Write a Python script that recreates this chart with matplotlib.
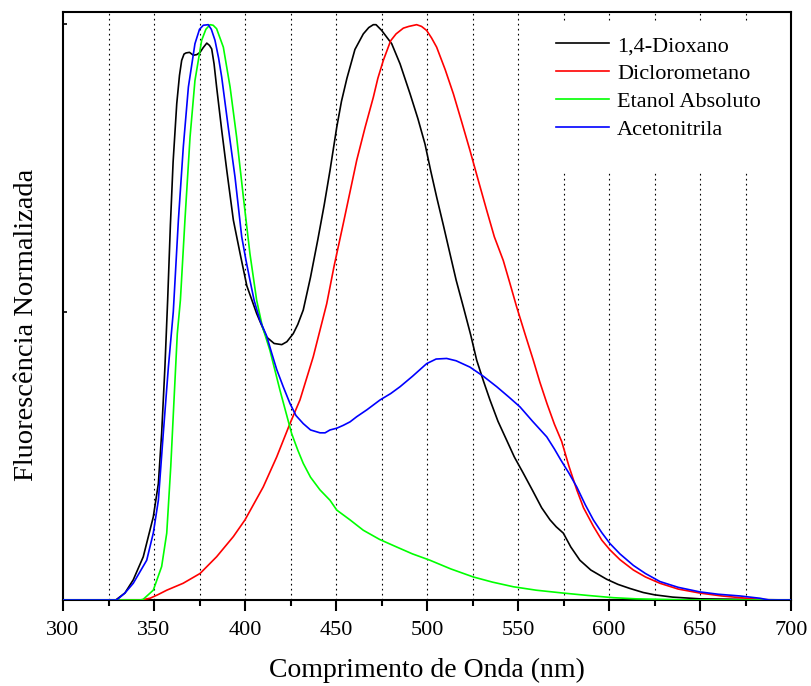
import matplotlib
matplotlib.use("Agg")
import matplotlib.pyplot as plt
from matplotlib.patches import Rectangle

plt.rcParams['font.family'] = ['Liberation Serif', 'DejaVu Serif']

# ---- data (wavelength nm, normalized fluorescence) ----
dioxano_x = [300, 329, 334, 338.6, 344.1, 349.6, 352.4, 354.2, 356, 357.5, 359, 360.5, 362.5, 364, 365.2,
             366.5, 367.6, 369.5, 371.6, 373.5, 375.3, 377, 379, 380.5, 381.7, 383, 384.4, 387.2, 390,
             393.6, 397.3, 401, 406.4, 411.9, 416, 420.2, 423, 426.5, 429, 432, 436, 440, 443.5, 446.7,
             450.4, 453, 456, 460.4, 465, 468, 470.5, 472, 475.1, 480.6, 485.2, 490.7, 495, 498.9, 502,
             505.3, 509, 512.6, 516, 520, 524, 527.3, 531, 534.6, 539, 543.8, 548, 552.9, 558, 563, 567.6,
             571, 574.9, 579, 584, 590, 598.7, 605, 611.5, 618.8, 625, 635, 650, 700]
dioxano_y = [0, 0, 0.012, 0.035, 0.075, 0.144, 0.202, 0.289, 0.404, 0.52, 0.65, 0.76, 0.861, 0.91, 0.936,
             0.947, 0.949, 0.950, 0.945, 0.946, 0.950, 0.958, 0.966, 0.962, 0.956, 0.93, 0.89, 0.815, 0.745,
             0.659, 0.601, 0.545, 0.497, 0.456, 0.445, 0.443, 0.448, 0.462, 0.478, 0.503, 0.56, 0.625, 0.685,
             0.745, 0.82, 0.865, 0.905, 0.955, 0.982, 0.993, 0.998, 0.998, 0.988, 0.965, 0.93, 0.878, 0.835,
             0.791, 0.745, 0.699, 0.65, 0.601, 0.555, 0.508, 0.46, 0.416, 0.38, 0.347, 0.31, 0.277, 0.248,
             0.22, 0.19, 0.16, 0.139, 0.127, 0.116, 0.092, 0.069, 0.052, 0.036, 0.027, 0.020, 0.013, 0.009,
             0.005, 0.002, 0]

dcm_x = [300, 343, 347.8, 352, 357, 366, 375.3, 384.4, 393.6, 400, 410, 417.4, 424.7, 430.2, 437.5, 444.9,
         449, 454, 457.5, 461.4, 466, 470.5, 473, 476, 480, 483, 487, 490, 494.3, 497, 499.8, 502.5, 505.3,
         510, 514.5, 519, 523.6, 528, 532.8, 537, 541.9, 545.5, 549.3, 554, 558.4, 562, 566, 570, 574, 578,
         582.3, 586, 591.4, 596, 600.5, 606, 613.4, 620, 628, 638, 650, 662, 675.7, 686, 700]
dcm_y = [0, 0, 0.003, 0.009, 0.017, 0.029, 0.046, 0.075, 0.11, 0.139, 0.196, 0.248, 0.306, 0.347, 0.422, 0.514,
         0.58, 0.653, 0.705, 0.763, 0.82, 0.872, 0.905, 0.936, 0.97, 0.982, 0.992, 0.995, 0.998, 0.995, 0.988,
         0.975, 0.959, 0.92, 0.878, 0.83, 0.78, 0.73, 0.676, 0.63, 0.589, 0.55, 0.508, 0.46, 0.416, 0.378,
         0.34, 0.305, 0.275, 0.232, 0.191, 0.16, 0.128, 0.104, 0.087, 0.07, 0.052, 0.04, 0.029, 0.019, 0.012,
         0.007, 0.003, 0, 0]

etanol_x = [300, 342, 344, 349.6, 354.2, 357, 359.2, 361, 362.8, 364.5, 367, 369.8, 372.5, 376.2, 378.5,
            380.8, 382.5, 384.4, 388.1, 391.8, 395.4, 399.1, 402.7, 406.4, 409.5, 413.7, 419.2, 425.6, 429,
            432, 436, 441.2, 446.7, 450.4, 457.7, 465, 474, 483.3, 492, 501.6, 513, 525.4, 536, 547.4, 560,
            574.9, 588, 602.4, 615, 630, 645, 700]
etanol_y = [0, 0, 0.001, 0.017, 0.058, 0.116, 0.231, 0.347, 0.462, 0.52, 0.659, 0.803, 0.901, 0.971, 0.99,
            0.998, 0.997, 0.991, 0.959, 0.89, 0.803, 0.699, 0.601, 0.52, 0.475, 0.433, 0.364, 0.289, 0.26,
            0.237, 0.213, 0.191, 0.173, 0.156, 0.139, 0.121, 0.105, 0.092, 0.08, 0.069, 0.054, 0.040, 0.031,
            0.023, 0.017, 0.012, 0.008, 0.004, 0.002, 0.001, 0, 0]

aceto_x = [300, 329.5, 334, 338.6, 346, 349.6, 352.4, 355.1, 357.9, 360.6, 363.4, 366.1, 368.9, 372.5, 375,
           377.1, 379.8, 381.5, 383.5, 385.5, 387.2, 390.8, 394.5, 398.2, 400.5, 402.7, 405, 408.2, 411.9,
           414.5, 417.4, 421, 424.7, 428, 432, 436, 441.2, 444, 446.7, 450.4, 454, 457.7, 461.4, 467, 474.2,
           480, 485.2, 492, 499.8, 505, 510.8, 516, 523.6, 531, 538.3, 545, 551.1, 558, 565.8, 570, 573.5,
           578, 582.3, 587, 591.4, 596, 600.5, 606, 613.4, 620, 628, 638, 650, 660, 672, 683, 688, 700]
aceto_y = [0, 0, 0.012, 0.029, 0.069, 0.116, 0.173, 0.289, 0.404, 0.50, 0.659, 0.786, 0.89, 0.965, 0.99,
           0.997, 0.998, 0.99, 0.971, 0.94, 0.907, 0.82, 0.734, 0.63, 0.59, 0.555, 0.52, 0.485, 0.458,
           0.43, 0.40, 0.37, 0.341, 0.32, 0.306, 0.295, 0.29, 0.29, 0.295, 0.298, 0.303, 0.309, 0.318, 0.33,
           0.347, 0.358, 0.37, 0.388, 0.41, 0.418, 0.419, 0.415, 0.404, 0.388, 0.37, 0.352, 0.335, 0.31,
           0.283, 0.262, 0.243, 0.22, 0.196, 0.165, 0.139, 0.117, 0.098, 0.08, 0.060, 0.046, 0.032, 0.022,
           0.014, 0.01, 0.007, 0.003, 0, 0]

labels = ['1,4-Dioxano', 'Diclorometano', 'Etanol Absoluto', 'Acetonitrila']
colors = ['#000000', '#FF0000', '#00FF00', '#0000FF']
xticks = [300, 350, 400, 450, 500, 550, 600, 650, 700]

fig = plt.figure(figsize=(8.12, 6.86), dpi=100)
ax = fig.add_axes([63/812, 86/686, 728/812, 588/686])

# dotted vertical grid every 25 nm
for g in range(325, 700, 25):
    ax.axvline(g, color='black', lw=0.8, ls=(0, (1.5, 3)), zorder=1)

# white area behind legend
ax.add_patch(Rectangle((568, 0.745), 122, 0.26, facecolor='white', edgecolor='none', zorder=1.5))

for xs, ys, c, lab in zip([dioxano_x, dcm_x, etanol_x, aceto_x],
                          [dioxano_y, dcm_y, etanol_y, aceto_y], colors, labels):
    ax.plot(xs, ys, color=c, lw=1.2, label=lab, zorder=3)

ax.set_xlim(300, 700)
ax.set_ylim(0, 1.02)
ax.set_xticks(xticks)
ax.set_xticks(range(325, 700, 50), minor=True)
ax.set_yticks([0, 0.5, 1.0])
ax.set_yticklabels([])
ax.tick_params(axis='x', which='major', direction='out', length=8, width=1.5, labelsize=16, pad=7)
ax.tick_params(axis='x', which='minor', direction='out', length=4.5, width=1.5)
ax.tick_params(axis='y', which='major', direction='in', length=3, width=1.2)
for s in ax.spines.values():
    s.set_linewidth(1.5)

ax.set_xlabel('Comprimento de Onda (nm)', fontsize=20, labelpad=13)
ax.set_ylabel('Fluorescência Normalizada', fontsize=20.5, labelpad=14, y=0.4677)

leg = ax.legend(loc='upper right', bbox_to_anchor=(0.983, 0.99), frameon=False, fontsize=16,
                handlelength=2.4, handletextpad=0.35, labelspacing=0.33, borderpad=0.3)

fig.savefig('out.png', dpi=100)
